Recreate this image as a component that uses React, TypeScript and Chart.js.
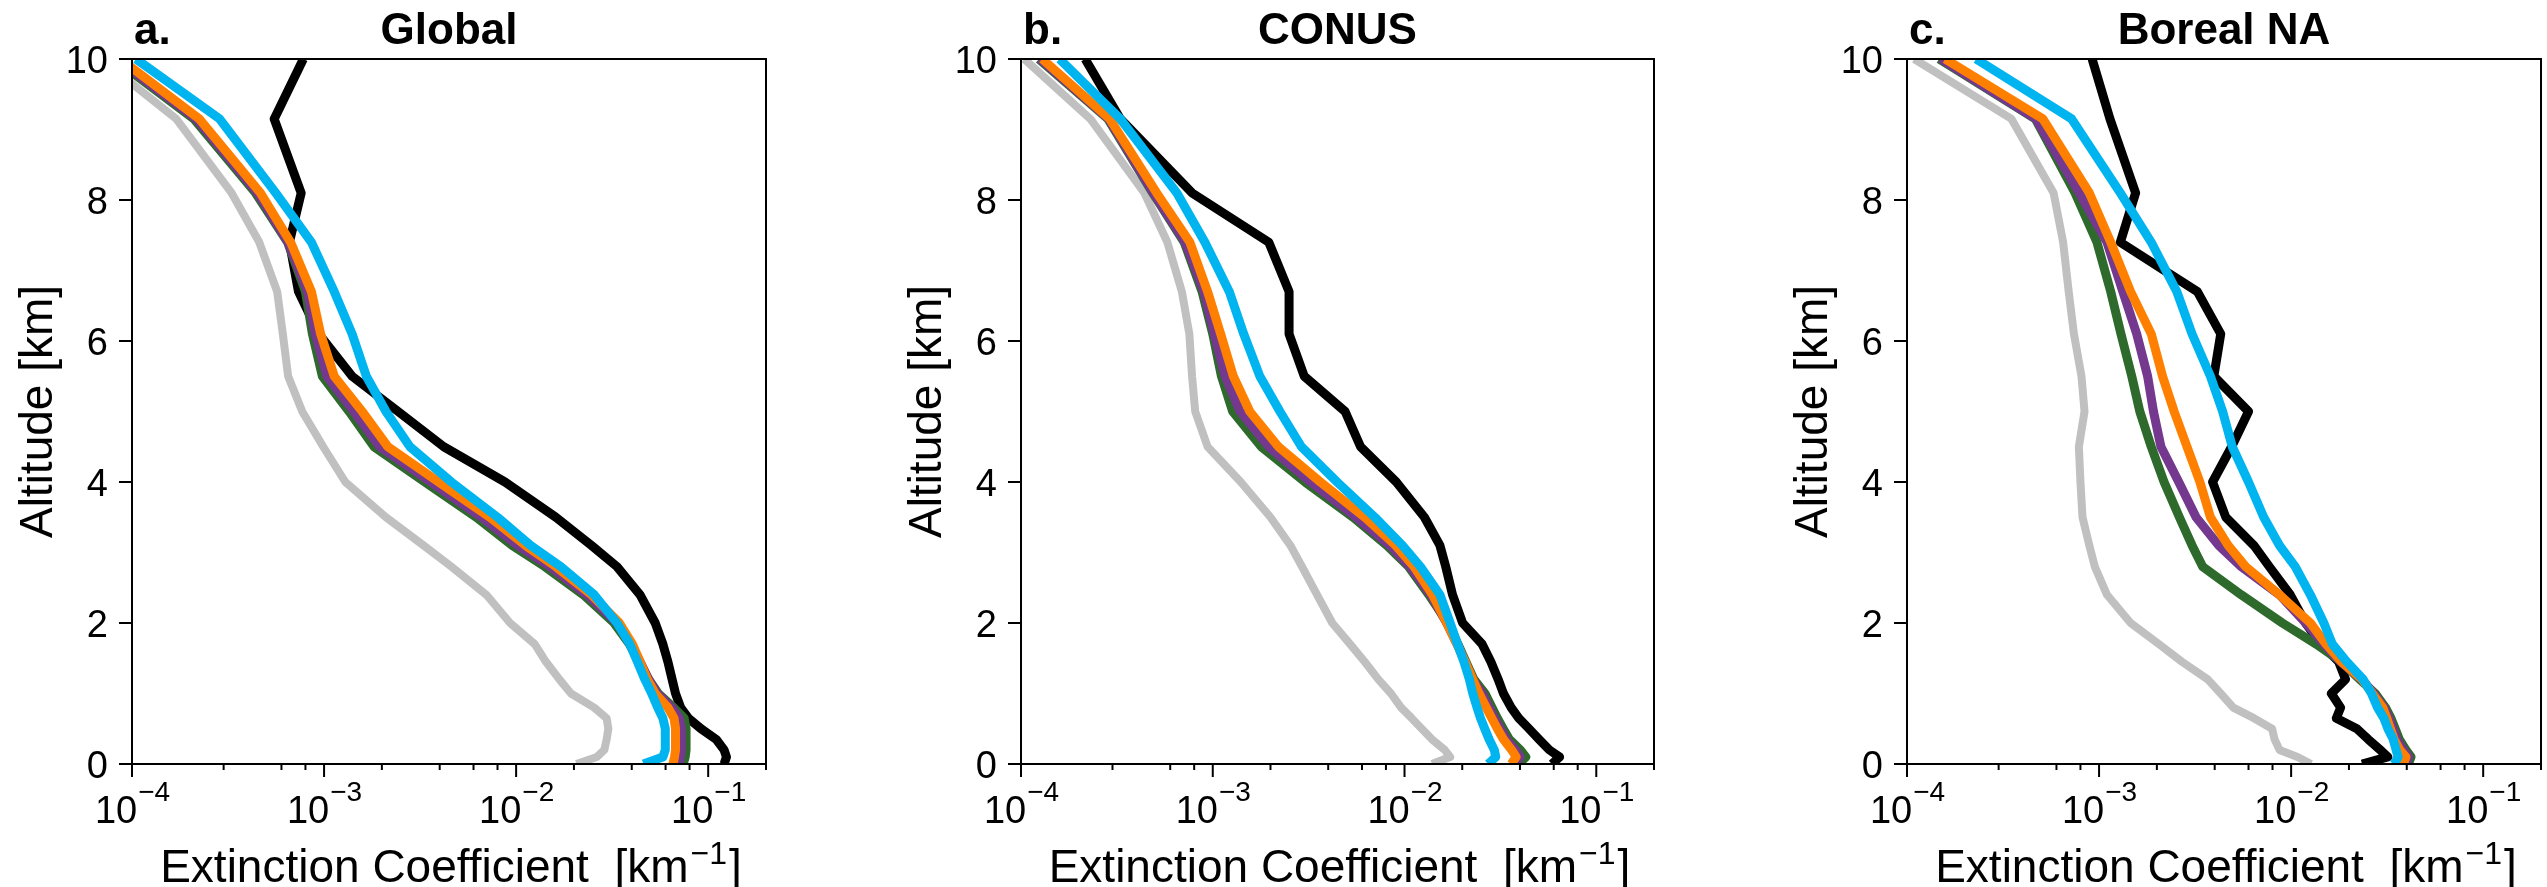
import React, { useEffect, useRef } from 'react';
import { Chart, registerables } from 'chart.js';

Chart.register(...registerables);

// Altitude levels (km) shared by every profile
const ALTITUDE_KM = [0, 0.1, 0.2, 0.35, 0.5, 0.65, 0.8, 1.0, 1.2, 1.45, 1.7, 2.0, 2.4, 2.8, 3.1, 3.5, 4.0, 4.5, 5.0, 5.5, 6.1, 6.7, 7.4, 8.1, 9.15, 10];

// Extinction coefficient (km^-1) — a. Global
const GLOBAL_BLACK = [0.121, 0.1245, 0.121, 0.110, 0.0918, 0.0789, 0.0719, 0.0676, 0.0649, 0.0617, 0.0581, 0.053, 0.0442, 0.0335, 0.0247, 0.0161, 8.75e-3, 4.2e-3, 2.43e-3, 1.4e-3, 9.4e-4, 7.36e-4, 6.6e-4, 7.6e-4, 5.5e-4, 7.8e-4];
const GLOBAL_GRAY = [0.0206, 0.0263, 0.0288, 0.0296, 0.0302, 0.0296, 0.0255, 0.0193, 0.0168, 0.0143, 0.0125, 9.3e-3, 7.0e-3, 4.6e-3, 3.3e-3, 2.1e-3, 1.29e-3, 9.9e-4, 7.7e-4, 6.5e-4, 6.1e-4, 5.7e-4, 4.6e-4, 3.3e-4, 1.7e-4, 6.9e-5];
const GLOBAL_GREEN = [0.0741, 0.0759, 0.0767, 0.0767, 0.0767, 0.075, 0.0661, 0.055, 0.049, 0.0437, 0.0389, 0.0324, 0.0224, 0.0141, 9.55e-3, 6.2e-3, 3.35e-3, 1.82e-3, 1.35e-3, 9.8e-4, 8.7e-4, 8.0e-4, 6.46e-4, 4.4e-4, 2.1e-4, 8.1e-5];
const GLOBAL_PURPLE = [0.0703, 0.0716, 0.0724, 0.0724, 0.0724, 0.0708, 0.0646, 0.0543, 0.049, 0.0442, 0.0398, 0.0335, 0.0234, 0.015, 0.0102, 6.6e-3, 3.6e-3, 1.95e-3, 1.43e-3, 1.035e-3, 9.0e-4, 8.2e-4, 6.5e-4, 4.5e-4, 2.16e-4, 8.3e-5];
const GLOBAL_ORANGE = [0.0656, 0.0668, 0.0676, 0.0676, 0.0676, 0.0664, 0.0617, 0.053, 0.0483, 0.0442, 0.0403, 0.0345, 0.0247, 0.0161, 0.0112, 7.3e-3, 3.95e-3, 2.15e-3, 1.58e-3, 1.13e-3, 9.6e-4, 8.6e-4, 6.7e-4, 4.66e-4, 2.24e-4, 8.7e-5];
const GLOBAL_CYAN = [0.046, 0.0581, 0.0598, 0.0598, 0.0598, 0.0581, 0.0546, 0.0508, 0.0468, 0.0428, 0.0391, 0.0335, 0.0255, 0.0171, 0.0119, 8.0e-3, 4.6e-3, 2.8e-3, 2.1e-3, 1.66e-3, 1.4e-3, 1.13e-3, 8.6e-4, 5.6e-4, 2.86e-4, 1.05e-4];

// b. CONUS
const CONUS_BLACK = [0.0587, 0.0644, 0.0569, 0.0503, 0.0446, 0.0394, 0.036, 0.0328, 0.0308, 0.0282, 0.0254, 0.0201, 0.0178, 0.0164, 0.0153, 0.0127, 9.06e-3, 5.9e-3, 4.9e-3, 3.0e-3, 2.5e-3, 2.5e-3, 1.96e-3, 7.8e-4, 3.3e-4, 2.16e-4];
const CONUS_GRAY = [0.0139, 0.0173, 0.0162, 0.0139, 0.0123, 0.0109, 9.6e-3, 8.5e-3, 7.3e-3, 6.2e-3, 5.2e-3, 4.2e-3, 3.5e-3, 2.92e-3, 2.54e-3, 2.0e-3, 1.4e-3, 9.4e-4, 8.1e-4, 7.8e-4, 7.55e-4, 6.9e-4, 5.8e-4, 4.4e-4, 2.3e-4, 1.04e-4];
const CONUS_GREEN = [0.0394, 0.0429, 0.0402, 0.0352, 0.0327, 0.0305, 0.0286, 0.0263, 0.023, 0.0209, 0.019, 0.0168, 0.0134, 0.0105, 8.1e-3, 5.4e-3, 3.03e-3, 1.79e-3, 1.27e-3, 1.11e-3, 1.0e-3, 8.8e-4, 7.1e-4, 4.86e-4, 2.84e-4, 1.24e-4];
const CONUS_PURPLE = [0.0372, 0.040, 0.0379, 0.034, 0.0316, 0.0295, 0.0276, 0.0254, 0.0227, 0.0207, 0.0188, 0.0166, 0.0137, 0.0107, 8.4e-3, 5.6e-3, 3.24e-3, 1.96e-3, 1.39e-3, 1.16e-3, 1.02e-3, 9.0e-4, 7.2e-4, 4.9e-4, 2.87e-4, 1.26e-4];
const CONUS_ORANGE = [0.036, 0.0382, 0.0362, 0.0328, 0.0305, 0.0285, 0.0267, 0.0245, 0.0227, 0.0207, 0.0188, 0.0166, 0.014, 0.0112, 9.0e-3, 6.2e-3, 3.64e-3, 2.2e-3, 1.56e-3, 1.28e-3, 1.1e-3, 9.4e-4, 7.6e-4, 5.1e-4, 2.9e-4, 1.29e-4];
const CONUS_CYAN = [0.0273, 0.0299, 0.0294, 0.0276, 0.0262, 0.0249, 0.0239, 0.0227, 0.0218, 0.0204, 0.0189, 0.0173, 0.0153, 0.0121, 9.75e-3, 7.0e-3, 4.45e-3, 2.9e-3, 2.24e-3, 1.76e-3, 1.45e-3, 1.22e-3, 9.1e-4, 6.5e-4, 3.3e-4, 1.59e-4];

// c. Boreal NA
const BOREAL_BLACK = [0.0234, 0.0319, 0.0291, 0.0252, 0.022, 0.0172, 0.0181, 0.0162, 0.0192, 0.0177, 0.0143, 0.0119, 9.9e-3, 7.7e-3, 6.4e-3, 4.57e-3, 3.9e-3, 4.9e-3, 6.0e-3, 3.96e-3, 4.3e-3, 3.25e-3, 1.29e-3, 1.55e-3, 1.14e-3, 9.2e-4];
const BOREAL_GRAY = [0.0127, 0.0108, 8.7e-3, 8.2e-3, 7.96e-3, 6.4e-3, 5.0e-3, 4.3e-3, 3.68e-3, 2.7e-3, 2.05e-3, 1.46e-3, 1.1e-3, 9.5e-4, 8.9e-4, 8.2e-4, 8.0e-4, 7.85e-4, 8.4e-4, 8.1e-4, 7.4e-4, 6.95e-4, 6.5e-4, 5.8e-4, 3.5e-4, 1.09e-4];
const BOREAL_GREEN = [0.0408, 0.0421, 0.0396, 0.0366, 0.0348, 0.0331, 0.031, 0.0274, 0.0228, 0.0183, 0.0135, 9.0e-3, 5.5e-3, 3.46e-3, 3.05e-3, 2.62e-3, 2.18e-3, 1.87e-3, 1.63e-3, 1.48e-3, 1.3e-3, 1.15e-3, 9.75e-4, 7.5e-4, 4.66e-4, 1.47e-4];
const BOREAL_PURPLE = [0.0396, 0.0408, 0.0384, 0.0355, 0.034, 0.0323, 0.0305, 0.0269, 0.0234, 0.0181, 0.0148, 0.0119, 8.7e-3, 5.5e-3, 4.2e-3, 3.2e-3, 2.6e-3, 2.1e-3, 1.92e-3, 1.79e-3, 1.57e-3, 1.33e-3, 1.1e-3, 7.9e-4, 4.7e-4, 1.5e-4];
const BOREAL_ORANGE = [0.0384, 0.0396, 0.0368, 0.0344, 0.0329, 0.0315, 0.030, 0.0265, 0.0234, 0.0183, 0.0152, 0.0126, 8.7e-3, 5.8e-3, 4.7e-3, 3.8e-3, 3.35e-3, 2.87e-3, 2.46e-3, 2.14e-3, 1.87e-3, 1.46e-3, 1.15e-3, 8.9e-4, 5.1e-4, 1.58e-4];
const BOREAL_CYAN = [0.0344, 0.0361, 0.0352, 0.034, 0.0319, 0.0304, 0.0282, 0.0262, 0.0237, 0.0195, 0.0164, 0.0148, 0.0126, 0.0105, 8.7e-3, 7.2e-3, 6.0e-3, 4.94e-3, 4.4e-3, 3.8e-3, 3.05e-3, 2.54e-3, 1.87e-3, 1.29e-3, 7.2e-4, 2.29e-4];

const Y_TICKS = [0, 2, 4, 6, 8, 10];
const X_MIN = 1e-4;
const X_MAX = 0.2;
const Y_MIN = 0;
const Y_MAX = 10;

const PANELS = [
  { letter: 'a.', title: 'Global', series: [GLOBAL_CYAN, GLOBAL_ORANGE, GLOBAL_PURPLE, GLOBAL_GREEN, GLOBAL_GRAY, GLOBAL_BLACK], left: 0, width: 849, rightPad: 83 },
  { letter: 'b.', title: 'CONUS', series: [CONUS_CYAN, CONUS_ORANGE, CONUS_PURPLE, CONUS_GREEN, CONUS_GRAY, CONUS_BLACK], left: 889, width: 849, rightPad: 84 },
  { letter: 'c.', title: 'Boreal NA', series: [BOREAL_CYAN, BOREAL_ORANGE, BOREAL_PURPLE, BOREAL_GREEN, BOREAL_GRAY, BOREAL_BLACK], left: 1775, width: 772, rightPad: 6 },
];

// drawing order: first = on top
const SERIES_COLORS = ['#00b4f0', '#ff8000', '#74388f', '#2e6a2c', '#c0c0c0', '#000000'];
const SERIES_WIDTHS = [9, 9, 9, 9, 8, 9];

const FONT = "'Liberation Sans', Arial, Helvetica, sans-serif";
const TICK_SIZE = 38;
const EXP_SIZE = 28;
const LABEL_SIZE = 46;
const LABEL_SUP = 32;
const TITLE_SIZE = 44;

const decorPlugin = {
  id: 'panelDecor',
  afterDatasetsDraw(chart: any, _args: any, opts: any) {
    const ctx: CanvasRenderingContext2D = chart.ctx;
    const { left, right, top, bottom } = chart.chartArea;
    const xs = chart.scales.x;
    const ys = chart.scales.y;
    ctx.save();
    ctx.fillStyle = '#000';
    ctx.strokeStyle = '#000';
    ctx.lineWidth = 2;
    ctx.lineCap = 'butt';
    // frame
    ctx.strokeRect(left, top, right - left, bottom - top);

    // y ticks
    ctx.font = `${TICK_SIZE}px ${FONT}`;
    ctx.textAlign = 'right';
    ctx.textBaseline = 'alphabetic';
    for (const v of Y_TICKS) {
      const py = ys.getPixelForValue(v);
      ctx.beginPath();
      ctx.moveTo(left - 13, py);
      ctx.lineTo(left, py);
      ctx.stroke();
      ctx.fillText(String(v), left - 24, py + TICK_SIZE * 0.716 / 2);
    }

    // x ticks (major + minor from log scale)
    for (const t of xs.ticks) {
      const v = t.value;
      if (v < X_MIN * 0.999 || v > X_MAX * 1.001) continue;
      const lg = Math.log10(v);
      const major = Math.abs(lg - Math.round(lg)) < 1e-6;
      const px = xs.getPixelForValue(v);
      ctx.beginPath();
      ctx.moveTo(px, bottom);
      ctx.lineTo(px, bottom + (major ? 13 : 6));
      ctx.stroke();
      if (major) {
        const e = Math.round(lg);
        const base = '10';
        const exp = '\u2212' + String(Math.abs(e));
        ctx.font = `${TICK_SIZE}px ${FONT}`;
        const w1 = ctx.measureText(base).width;
        ctx.font = `${EXP_SIZE}px ${FONT}`;
        const w2 = ctx.measureText(exp).width;
        const x0 = px - (w1 + w2) / 2;
        ctx.textAlign = 'left';
        ctx.font = `${TICK_SIZE}px ${FONT}`;
        ctx.fillText(base, x0, 823);
        ctx.font = `${EXP_SIZE}px ${FONT}`;
        ctx.fillText(exp, x0 + w1 + 1, 801);
      }
    }

    // x axis title with superscript
    {
      const p1 = 'Extinction Coefficient  [km';
      const sup = '\u22121';
      const p3 = ']';
      ctx.font = `${LABEL_SIZE}px ${FONT}`;
      const w1 = ctx.measureText(p1).width;
      const w3 = ctx.measureText(p3).width;
      ctx.font = `${LABEL_SUP}px ${FONT}`;
      const w2 = ctx.measureText(sup).width;
      const cx = (left + right) / 2;
      const x0 = cx - (w1 + w2 + w3) / 2;
      ctx.textAlign = 'left';
      ctx.font = `${LABEL_SIZE}px ${FONT}`;
      ctx.fillText(p1, x0, 882);
      ctx.font = `${LABEL_SUP}px ${FONT}`;
      ctx.fillText(sup, x0 + w1 + 2, 864);
      ctx.font = `${LABEL_SIZE}px ${FONT}`;
      ctx.fillText(p3, x0 + w1 + w2 + 4, 882);
    }

    // y axis title
    ctx.save();
    ctx.translate(left - 80, (top + bottom) / 2);
    ctx.rotate(-Math.PI / 2);
    ctx.textAlign = 'center';
    ctx.font = `${LABEL_SIZE}px ${FONT}`;
    ctx.fillText('Altitude [km]', 0, 0);
    ctx.restore();

    // panel letter and title
    ctx.font = `bold ${TITLE_SIZE}px ${FONT}`;
    ctx.textAlign = 'left';
    ctx.fillText(opts.letter, left + 2, 44);
    ctx.textAlign = 'center';
    ctx.fillText(opts.title, (left + right) / 2, 44);
    ctx.restore();
  },
};

function Panel({ panel }: { panel: typeof PANELS[number] }) {
  const ref = useRef<HTMLCanvasElement | null>(null);
  useEffect(() => {
    if (!ref.current) return;
    const datasets = panel.series.map((vals, i) => ({
      label: `series ${i + 1}`,
      data: ALTITUDE_KM.map((alt, k) => ({ x: vals[k], y: alt })),
      borderColor: SERIES_COLORS[i],
      backgroundColor: SERIES_COLORS[i],
      borderWidth: SERIES_WIDTHS[i],
      pointRadius: 0,
      pointHoverRadius: 0,
      tension: 0,
      fill: false,
      showLine: true,
      borderJoinStyle: 'round' as const,
      borderCapStyle: 'butt' as const,
      clip: 0,
    }));
    const chart = new Chart(ref.current, {
      type: 'line',
      data: { datasets },
      options: {
        animation: false,
        responsive: false,
        devicePixelRatio: 1,
        events: [],
        layout: { padding: { left: 132, top: 59, right: panel.rightPad, bottom: 123 } },
        plugins: {
          legend: { display: false },
          tooltip: { enabled: false },
          title: { display: false },
          panelDecor: { letter: panel.letter, title: panel.title },
        } as any,
        scales: {
          x: { type: 'logarithmic', min: X_MIN, max: X_MAX, display: false },
          y: { type: 'linear', min: Y_MIN, max: Y_MAX, display: false },
        },
      },
      plugins: [decorPlugin],
    });
    return () => chart.destroy();
  }, [panel]);
  return (
    <canvas
      ref={ref}
      width={panel.width}
      height={887}
      style={{ position: 'absolute', left: panel.left, top: 0, width: panel.width, height: 887 }}
    />
  );
}

export default function App() {
  return (
    <div style={{ position: 'absolute', left: 0, top: 0, width: 2547, height: 887, background: '#fff' }}>
      {PANELS.map((p) => (
        <Panel key={p.letter} panel={p} />
      ))}
    </div>
  );
}
